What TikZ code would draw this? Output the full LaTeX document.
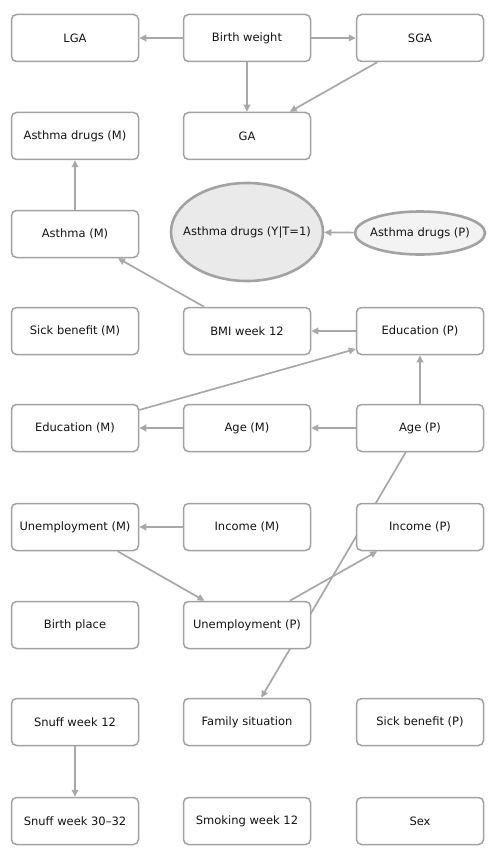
\documentclass[tikz,border=0pt]{standalone}
\usepackage{fontspec}
\setmainfont{DejaVu Sans}
\usetikzlibrary{arrows.meta,shapes.geometric}
\pgfdeclarelayer{bg}
\pgfsetlayers{bg,main}
\definecolor{boxline}{HTML}{A2A2A2}
\definecolor{edgeline}{HTML}{A8A8A8}
\definecolor{bigfill}{HTML}{EAEAEA}
\definecolor{smallfill}{HTML}{F3F3F3}
\tikzset{
  txt/.style={font=\fontsize{11.5}{13}\selectfont, text=black!92},
  box/.style={txt, draw=boxline, line width=1.5pt, rounded corners=5pt, fill=white,
    minimum width=127pt, minimum height=47pt, inner sep=0pt},
  oval/.style={ellipse, draw=boxline, line width=2.6pt, inner sep=0pt},
  edge/.style={draw=edgeline, line width=1.7pt,
    -{Triangle[length=7pt,width=6.5pt]}}
}
\begin{document}
\begin{tikzpicture}[x=1pt,y=-1pt]
\useasboundingbox (0,0) rectangle (498,853);
% row 1
\node[box] (lga) at (75,38) {LGA};
\node[box] (bw) at (247,38) {Birth weight};
\node[box] (sga) at (420,38) {SGA};
% row 2
\node[box] (adm) at (75,136) {Asthma drugs (M)};
\node[box] (ga) at (247,136) {GA};
% row 3
\node[box] (asm) at (75,234) {Asthma (M)};
\node[oval, fill=bigfill, minimum width=152pt, minimum height=98pt,
  label={[txt]center:Asthma drugs (Y|T=1)}] (ady) at (247,232) {};
\node[oval, fill=smallfill, minimum width=130pt, minimum height=43pt,
  label={[txt]center:Asthma drugs (P)}] (adp) at (420,233) {};
% row 4
\node[box] (sbm) at (75,331) {Sick benefit (M)};
\node[box] (bmi) at (247,331) {BMI week 12};
\node[box] (edp) at (420,331) {Education (P)};
% row 5
\node[box] (edm) at (75,428) {Education (M)};
\node[box] (agem) at (247,428) {Age (M)};
\node[box] (agep) at (420,428) {Age (P)};
% row 6
\node[box] (unm) at (75,527) {Unemployment (M)};
\node[box] (inm) at (247,527) {Income (M)};
\node[box] (inp) at (420,527) {Income (P)};
% row 7
\node[box] (bp) at (75,625) {Birth place};
\node[box] (unp) at (247,625) {Unemployment (P)};
% row 8
\node[box] (sn12) at (75,722) {Snuff week 12};
\node[box] (fam) at (247,722) {Family situation};
\node[box] (sbp) at (420,722) {Sick benefit (P)};
% row 9
\node[box] (sn30) at (75,821) {Snuff week 30--32};
\node[box] (sm12) at (247,821) {Smoking week 12};
\node[box] (sex) at (420,821) {Sex};
% edges
\begin{pgfonlayer}{bg}
\draw[edge] (bw) -- (lga);
\draw[edge] (bw) -- (sga);
\draw[edge] (bw) -- (ga);
\draw[edge] (sga) -- (ga);
\draw[edge] (asm) -- (adm);
\draw[edge] (bmi) -- (asm);
\draw[edge] (adp) -- (ady);
\draw[edge] (edp) -- (bmi);
\draw[edge] (edm) -- (edp);
\draw[edge] (agep) -- (edp);
\draw[edge] (agep) -- (agem);
\draw[edge] (agem) -- (edm);
\draw[edge] (inm) -- (unm);
\draw[edge] (unm) -- (unp);
\draw[edge] (unp) -- (inp);
\draw[edge] (agep.center) -- (fam);
\draw[edge] (sn12) -- (sn30);
\end{pgfonlayer}
\end{tikzpicture}
\end{document}
